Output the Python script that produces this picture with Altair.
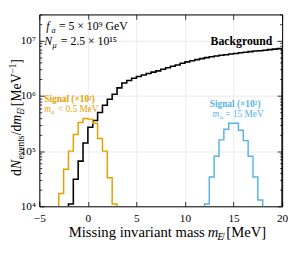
import altair as alt
import pandas as pd

FONT = "Liberation Serif"
BIN = 0.5          # MeV bin width
FLOOR = 1e4        # histogram outline baseline (bottom of the log axis)

# Background histogram (left edge -2.0 MeV, 0.5 MeV bins)
bkg_start = -2.0
bkg_values = [1.1e4, 3.1e4, 6.6e4, 1.4e5, 2.7e5, 3.6e5, 5.0e5, 6.8e5, 8.7e5, 1.07e6,
              1.4e6, 1.72e6, 1.9e6, 2.1e6, 2.25e6, 2.4e6, 2.55e6, 2.7e6, 2.85e6, 3.05e6,
              3.25e6, 3.45e6, 3.65e6, 3.9e6, 4.15e6, 4.35e6, 4.55e6, 4.75e6, 4.95e6, 5.15e6,
              5.3e6, 5.45e6, 5.6e6, 5.75e6, 5.9e6, 6.05e6, 6.2e6, 6.35e6, 6.5e6, 6.6e6,
              6.75e6, 6.9e6, 7.05e6, 7.2e6]

# Signal (x10^2), m_a < 0.5 MeV
sig_low_start = -3.0
sig_low_values = [1.7e4, 4.7e4, 1.0e5, 2.0e5, 3.3e5, 3.9e5, 3.8e5, 3.2e5, 1.7e5, 1.0e5, 3.3e4, 1.1e4]

# Signal (x10^2), m_a = 15 MeV
sig_15_start = 12.0
sig_15_values = [1.1e4, 3.4e4, 8.1e4, 1.6e5, 2.5e5, 3.2e5, 3.2e5, 2.4e5, 1.55e5, 8.1e4, 3.4e4, 1.3e4]

x_ticks = [-5, 0, 5, 10, 15, 20]
y_major = [1e4, 1e5, 1e6, 1e7]
y_minor = [m * 10.0 ** k for k in range(4, 8) for m in range(2, 10) if m * 10.0 ** k <= 3e7]

ORANGE = "#E69F00"
BLUE = "#56B4E9"


def step_frame(start, values):
    edges = [start + BIN * i for i in range(len(values) + 1)]
    xs = [edges[0]] + edges[:-1] + [edges[-1]]
    ys = [FLOOR] + list(values) + [FLOOR]
    return pd.DataFrame({"x": xs, "y": ys, "i": list(range(len(xs)))})


xscale = alt.Scale(domain=[-5, 20], nice=False, zero=False)
yscale = alt.Scale(type="log", domain=[1e4, 3e7], nice=False)

MAJOR = "abs(log(datum.value)/LN10 - round(log(datum.value)/LN10)) < 0.001"

x_bottom = alt.Axis(values=x_ticks, orient="bottom", title=None, grid=True,
                    gridColor="#e6e6e6", gridWidth=0.8,
                    tickSize={"expr": "-5"}, tickColor="black", tickWidth=0.8,
                    domainColor="black", domainWidth=1,
                    labelExpr="datum.value < 0 ? '\u2212' + abs(datum.value) : '' + datum.value",
                    labelFont=FONT, labelFontSize=11.5, labelColor="black",
                    labelPadding=12, labelFlush=False)
y_left = alt.Axis(values=y_major + y_minor, orient="left", title=None, grid=True,
                  gridColor="#e6e6e6", gridWidth=0.8,
                  gridOpacity={"expr": f"(({MAJOR}) && datum.value > 10001) ? 1 : 0"},
                  tickSize={"expr": f"({MAJOR}) ? -5 : -2.5"}, tickColor="black", tickWidth=0.8,
                  domainColor="black", domainWidth=1,
                  labelExpr=("datum.value == 10000 ? '10\u2074' : datum.value == 100000 ? '10\u2075' : "
                             "datum.value == 1000000 ? '10\u2076' : datum.value == 10000000 ? '10\u2077' : ''"),
                  labelFont=FONT, labelFontSize=11.5, labelColor="black",
                  labelPadding=9, labelFlush=False)
x_top = alt.Axis(values=x_ticks, orient="top", title=None, grid=False, labels=False,
                 tickSize={"expr": "-5"}, tickColor="black", tickWidth=0.8,
                 domainColor="black", domainWidth=1)
y_right = alt.Axis(values=y_major + y_minor, orient="right", title=None, grid=False, labels=False,
                   tickSize={"expr": f"({MAJOR}) ? -5 : -2.5"}, tickColor="black", tickWidth=0.8,
                   domainColor="black", domainWidth=1)


def hist(df, color, xaxis, yaxis, width):
    return alt.Chart(df).mark_line(interpolate="step-after", color=color, strokeWidth=width,
                                   clip=True, strokeJoin="miter").encode(
        x=alt.X("x:Q", scale=xscale, axis=xaxis),
        y=alt.Y("y:Q", scale=yscale, axis=yaxis),
        order="i:Q",
    )


def label(text, x, y, size=12, color="black", weight="normal", style="normal",
          angle=0, align="left"):
    return alt.Chart(pd.DataFrame({"t": [text]})).mark_text(
        font=FONT, fontSize=size, color=color, fontWeight=weight, fontStyle=style,
        angle=angle, align=align, baseline="alphabetic",
    ).encode(x=alt.value(x), y=alt.value(y), text="t:N")


bkg = hist(step_frame(bkg_start, bkg_values), "black", x_bottom, y_left, 1.6)
sig_low = hist(step_frame(sig_low_start, sig_low_values), ORANGE, x_top, y_right, 1.5)
sig_15 = hist(step_frame(sig_15_start, sig_15_values), BLUE, None, None, 1.5)

YT = -18.5  # baseline of the rotated y-axis title (plot coordinates)

texts = [
    # parameters
    label("f", 7, 16, 12, style="italic"),
    label("a", 12.5, 19, 8.5, style="italic"),
    label("= 5 \u00d7 10\u2079 GeV", 20, 16, 12),
    label("N", 5, 31, 12, style="italic"),
    label("\u03bc", 13.5, 34, 8.5, style="italic"),
    label("= 2.5 \u00d7 10\u00b9\u2075", 22, 31, 12),
    # background label
    label("Background", 238, 31, 12, weight="bold", align="right"),
    # orange signal label
    label("Signal (\u00d710\u00b2)", 5, 89.5, 9.5, color=ORANGE, weight="bold"),
    label("m", 5, 99.5, 9.5, color=ORANGE, style="italic"),
    label("a", 12.3, 101.5, 6.5, color=ORANGE, style="italic"),
    label("< 0.5 MeV", 19, 99.5, 9.5, color=ORANGE),
    # blue signal label
    label("Signal (\u00d710\u00b2)", 200, 95, 9.5, color=BLUE, weight="bold", align="center"),
    label("m", 177, 105, 9.5, color=BLUE, style="italic"),
    label("a", 184.3, 107, 6.5, color=BLUE, style="italic"),
    label("= 15 MeV", 190, 105, 9.5, color=BLUE),
    # x-axis title
    label("Missing invariant mass", 30, 227, 15),
    label("m", 172, 227, 15, style="italic"),
    label("E\u0338", 182, 230, 10, style="italic"),
    label("[MeV]", 191, 227, 15),
    # y-axis title (rotated)
    label("d", YT, 165, 14, angle=270),
    label("N", YT, 158, 14, style="italic", angle=270),
    label("events", YT + 3, 148, 9.5, angle=270),
    label("/d", YT, 123.5, 14, angle=270),
    label("m", YT, 112.6, 14, style="italic", angle=270),
    label("E\u0338", YT + 3, 102.5, 9.5, style="italic", angle=270),
    label("[MeV", YT, 93.7, 14, angle=270),
    label("\u22121", YT - 5, 60.3, 9.5, angle=270),
    label("]", YT, 50.3, 14, angle=270),
]

chart = alt.layer(bkg, sig_low, sig_15, *texts).resolve_axis(
    x="independent", y="independent"
).properties(
    width=248, height=196,
    autosize=alt.AutoSizeParams(type="none"),
    padding={"left": 32, "top": 4, "right": 6, "bottom": 40},
).configure_view(stroke="black", strokeWidth=1).configure(font=FONT)

chart.save("out.html", embed_options={"renderer": "svg", "actions": False})
